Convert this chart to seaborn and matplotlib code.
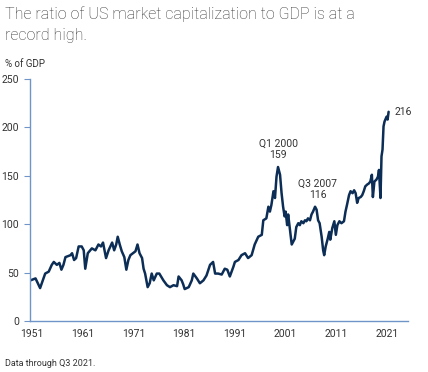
import matplotlib
matplotlib.use('Agg')
import matplotlib.pyplot as plt
import seaborn as sns
import pandas as pd

# US market cap as % of GDP (decimal years)
years = [
    1950.7, 1951.7, 1952.6, 1953.6, 1954.3, 1954.9, 1955.3, 1955.9, 1956.4, 1956.8,
    1957.2, 1957.6, 1958.6, 1958.9, 1959.3, 1959.7, 1960.2, 1960.8, 1961.2, 1961.5,
    1962.0, 1962.8, 1963.5, 1964.1, 1964.6, 1965.0, 1965.6, 1966.1, 1966.8, 1967.2,
    1967.6, 1967.9, 1968.3, 1968.7, 1969.2, 1969.6, 1970.0, 1970.4, 1970.9, 1971.4,
    1971.8, 1972.2, 1972.7, 1973.0, 1973.3, 1973.8, 1974.2, 1974.6, 1975.0, 1975.6,
    1976.1, 1976.9, 1977.6, 1978.2, 1978.9, 1979.6, 1979.9, 1980.5, 1980.8, 1981.1,
    1981.9, 1982.5, 1982.8, 1983.5,
    1984.1, 1984.8, 1985.4, 1986.1, 1986.7, 1987.1, 1987.7, 1988.4, 1989.0, 1989.5,
    1990.0, 1990.7, 1991.0, 1991.7, 1992.3, 1993.0, 1993.6, 1994.3, 1994.9, 1995.6,
    1996.3, 1996.6, 1997.2, 1997.6, 1997.9, 1998.2, 1998.6, 1998.9, 1999.2, 1999.5,
    1999.9, 2000.2, 2000.5, 2000.8, 2001.0, 2001.3, 2001.5, 2001.8, 2002.2, 2002.5,
    2002.8, 2003.1, 2003.5, 2003.8, 2004.1, 2004.5, 2004.8, 2005.1, 2005.4, 2005.8,
    2006.1, 2006.4, 2006.8, 2007.1, 2007.4, 2007.7, 2008.1, 2008.4, 2008.6, 2008.9,
    2009.3, 2009.6, 2009.8, 2010.2, 2010.6, 2010.9, 2011.2, 2011.6, 2012.0, 2012.5,
    2012.8, 2013.1, 2013.5, 2013.8, 2014.2, 2014.5, 2014.8, 2015.1, 2015.4, 2015.8,
    2016.1, 2016.4, 2016.7, 2017.1, 2017.4, 2017.7, 2018.0, 2018.2, 2018.5, 2018.9,
    2019.2, 2019.4, 2019.7, 2019.9, 2020.1, 2020.3, 2020.5, 2020.9, 2021.1, 2021.3,
]
pct_gdp = [
    42, 44, 34, 49, 51, 58, 61, 58, 60, 53,
    58, 66, 68, 70, 63, 65, 77, 77, 73, 54,
    70, 75, 73, 79, 77, 81, 65, 73, 81, 73,
    79, 87, 79, 72, 66, 53, 63, 68, 70, 72,
    79, 70, 65, 54, 49, 35, 39, 49, 42, 49,
    49, 42, 37, 35, 37, 36, 46, 42, 38, 33,
    35, 42, 49, 44,
    39, 42, 47, 58, 61, 49, 49, 48, 54, 53,
    46, 56, 61, 63, 68, 70, 65, 68, 79, 87,
    89, 104, 106, 118, 113, 120, 134, 127, 149, 159,
    151, 132, 118, 108, 113, 99, 110, 97, 79, 82,
    85, 97, 101, 99, 103, 101, 104, 103, 106, 104,
    110, 113, 118, 115, 104, 101, 87, 73, 68, 77,
    85, 92, 84, 96, 103, 89, 99, 103, 101, 103,
    113, 120, 130, 134, 132, 135, 132, 122, 127, 128,
    130, 134, 139, 141, 142, 144, 151, 128, 144, 146,
    149, 156, 127, 170, 177, 201, 206, 211, 208, 216,
]

y_ticks = [0, 50, 100, 150, 200, 250]
x_ticks = [1951, 1961, 1971, 1981, 1991, 2001, 2011, 2021]

df = pd.DataFrame({'year': years, 'pct': pct_gdp})

sns.set_style("white")
plt.rcParams['font.family'] = ['Roboto', 'DejaVu Sans']

line_color = '#0c2d55'
axis_color = '#6f95c8'
text_color = '#333333'

fig = plt.figure(figsize=(4.28, 3.72), dpi=100)
ax = fig.add_axes([0.070, 0.137, 0.883, 0.651])

sns.lineplot(data=df, x='year', y='pct', color=line_color, lw=1.8, ax=ax, sort=False)

ax.set_xlim(1950.6, 2025.1)
ax.set_ylim(0, 250)
ax.set_xticks(x_ticks)
ax.set_yticks(y_ticks)
ax.set_xlabel('')
ax.set_ylabel('')
ax.tick_params(axis='x', length=0, pad=6, labelsize=7.5, labelcolor=text_color)
ax.tick_params(axis='y', length=4, width=0.8, color=axis_color, pad=4,
               labelsize=7.5, labelcolor=text_color, left=True)

for side in ['top', 'right']:
    ax.spines[side].set_visible(False)
for side in ['left', 'bottom']:
    ax.spines[side].set_color(axis_color)
    ax.spines[side].set_linewidth(1.0)

# annotations on the peaks
i2000 = pct_gdp.index(159)
ax.annotate('Q1 2000\n159', xy=(years[i2000], pct_gdp[i2000]), xytext=(0, 5),
            textcoords='offset points', ha='center', va='bottom',
            fontsize=7.5, color=text_color, linespacing=1.15)
i2007 = pct_gdp.index(118, 100)
ax.annotate('Q3 2007\n116', xy=(years[i2007], pct_gdp[i2007]), xytext=(2, 5),
            textcoords='offset points', ha='center', va='bottom',
            fontsize=7.5, color=text_color, linespacing=1.15)
ax.annotate(str(pct_gdp[-1]), xy=(years[-1], pct_gdp[-1]), xytext=(4, 0),
            textcoords='offset points', ha='left', va='center',
            fontsize=7.5, color=text_color)

fig.text(0.012, 0.983, 'The ratio of US market capitalization to GDP is at a\nrecord high.',
         ha='left', va='top', fontsize=11.5, color=text_color, linespacing=1.5,
         fontweight='light')
fig.text(0.012, 0.815, '% of GDP', ha='left', va='bottom', fontsize=7, color=text_color)
fig.text(0.012, 0.012, 'Data through Q3 2021.', ha='left', va='bottom', fontsize=6.5, color=text_color)

plt.savefig('out.png', dpi=100)
plt.close()
